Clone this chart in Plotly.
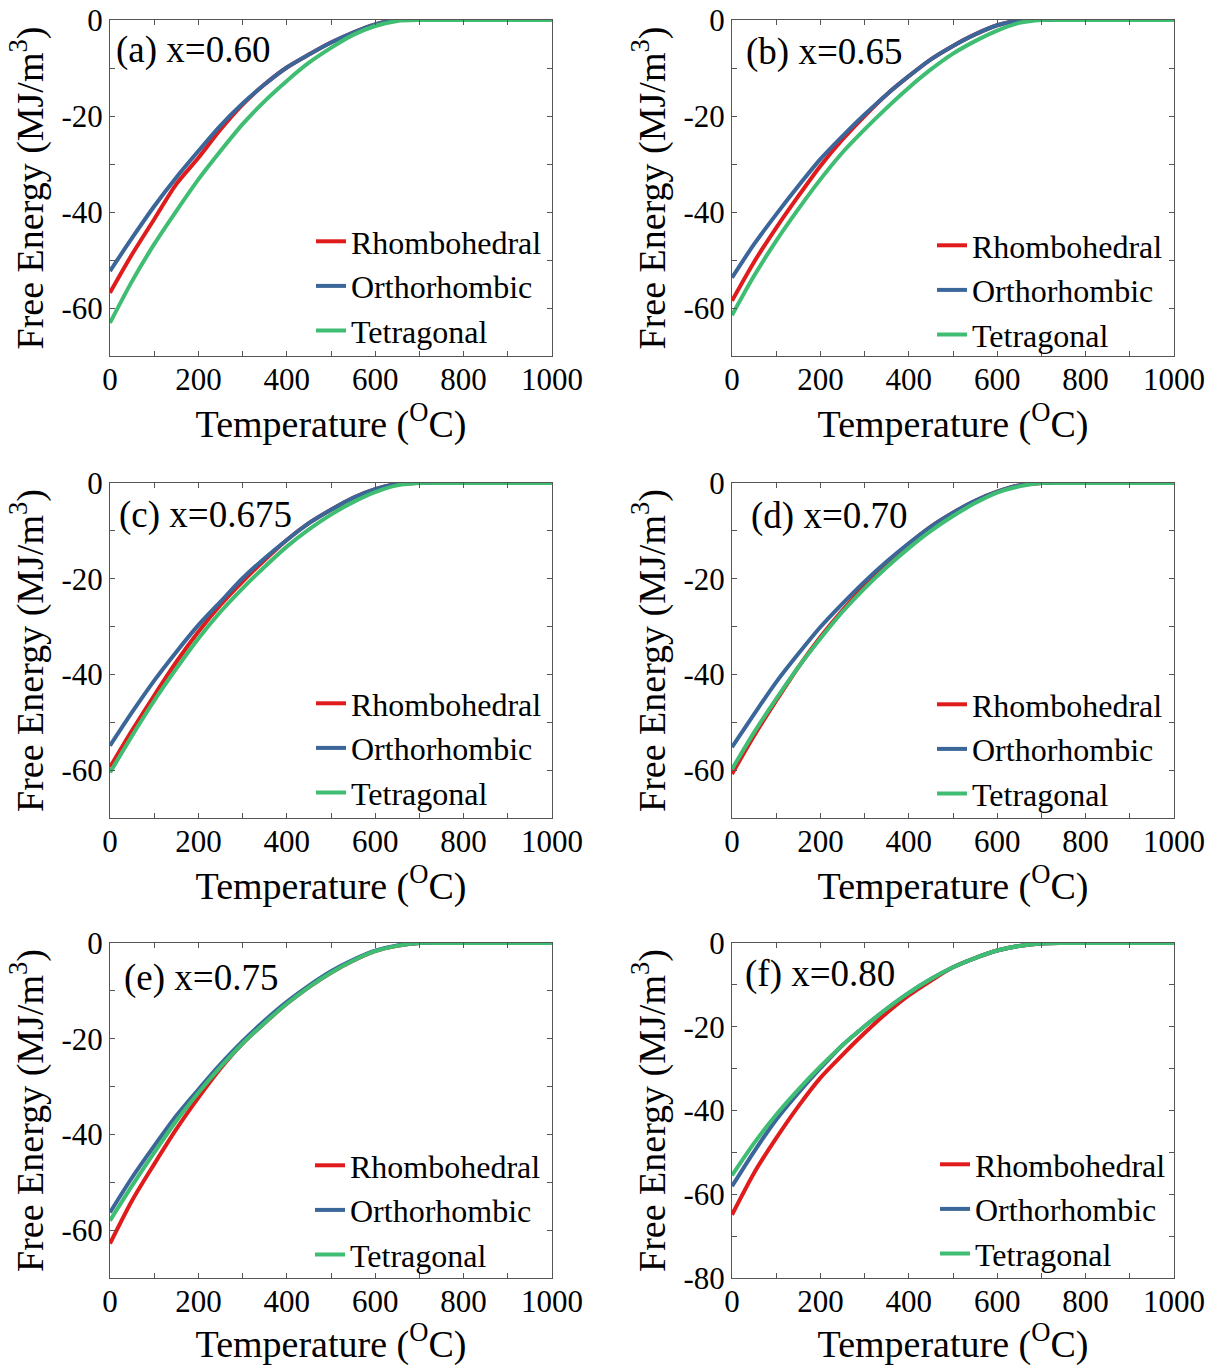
import plotly.graph_objects as go

# ---------------- data ----------------
temperature = [0, 50, 100, 150, 200, 250, 300, 350, 400, 450, 500,
               550, 600, 650, 700, 750, 800, 850, 900, 950, 1000]

rhombo_a = [-56.8, -48.8, -41.5, -34.2, -28.7, -22.8, -17.6, -13.4, -9.9, -7.2, -4.7, -2.6, -0.9, 0, 0, 0, 0, 0, 0, 0, 0]
ortho_a  = [-52.3, -45.4, -38.8, -32.8, -27.3, -22.0, -17.4, -13.4, -9.9, -7.2, -4.7, -2.6, -0.9, 0, 0, 0, 0, 0, 0, 0, 0]
tetra_a  = [-63.1, -54.4, -46.7, -39.8, -33.2, -27.3, -21.7, -16.9, -12.7, -8.9, -5.8, -3.1, -1.25, -0.2, 0, 0, 0, 0, 0, 0, 0]

rhombo_b = [-58.5, -50.4, -43.3, -36.7, -30.4, -24.9, -20.0, -15.5, -11.7, -8.2, -5.4, -3.0, -1.1, -0.1, 0, 0, 0, 0, 0, 0, 0]
ortho_b  = [-53.7, -46.7, -40.5, -34.6, -29.0, -24.2, -19.7, -15.5, -11.7, -8.2, -5.4, -3.0, -1.1, -0.1, 0, 0, 0, 0, 0, 0, 0]
tetra_b  = [-61.5, -53.3, -46.0, -39.4, -33.2, -27.6, -22.8, -18.3, -14.1, -10.3, -7.0, -4.4, -2.2, -0.6, 0, 0, 0, 0, 0, 0, 0]

rhombo_c = [-59.4, -51.7, -44.4, -37.4, -31.1, -25.5, -20.6, -16.1, -11.9, -8.4, -5.6, -3.1, -1.3, -0.2, 0, 0, 0, 0, 0, 0, 0]
ortho_c  = [-54.9, -47.9, -41.3, -35.3, -29.7, -24.8, -19.9, -15.7, -11.9, -8.4, -5.6, -3.1, -1.3, -0.2, 0, 0, 0, 0, 0, 0, 0]
tetra_c  = [-60.5, -52.8, -45.5, -38.8, -32.5, -26.9, -22.0, -17.5, -13.3, -9.7, -6.6, -4.0, -1.9, -0.5, 0, 0, 0, 0, 0, 0, 0]

rhombo_d = [-60.8, -52.8, -45.5, -38.5, -32.2, -26.6, -21.5, -17.0, -12.7, -9.1, -6.2, -3.7, -1.8, -0.5, 0, 0, 0, 0, 0, 0, 0]
ortho_d  = [-55.2, -48.3, -41.6, -35.7, -30.1, -25.2, -20.6, -16.4, -12.6, -9.1, -6.2, -3.7, -1.8, -0.5, 0, 0, 0, 0, 0, 0, 0]
tetra_d  = [-59.8, -52.1, -45.1, -38.5, -32.5, -26.9, -22.0, -17.6, -13.6, -10.0, -6.9, -4.2, -2.0, -0.7, 0, 0, 0, 0, 0, 0, 0]

rhombo_e = [-62.8, -53.8, -46.2, -38.9, -32.3, -26.2, -21.0, -16.7, -12.7, -9.2, -6.2, -3.7, -1.7, -0.6, 0, 0, 0, 0, 0, 0, 0]
ortho_e  = [-56.3, -49.0, -42.4, -36.1, -30.6, -25.3, -20.5, -16.2, -12.3, -8.9, -5.9, -3.5, -1.6, -0.5, 0, 0, 0, 0, 0, 0, 0]
tetra_e  = [-58.0, -50.7, -43.8, -37.2, -31.3, -25.9, -21.0, -16.7, -12.7, -9.2, -6.2, -3.7, -1.7, -0.6, 0, 0, 0, 0, 0, 0, 0]

rhombo_f = [-64.9, -54.9, -46.6, -39.0, -32.2, -26.7, -21.5, -16.7, -12.5, -9.0, -5.8, -3.6, -1.8, -0.7, -0.1, 0, 0, 0, 0, 0, 0]
ortho_f  = [-58.1, -49.8, -42.2, -35.8, -29.9, -24.4, -19.9, -15.7, -11.9, -8.6, -5.8, -3.6, -1.8, -0.7, -0.1, 0, 0, 0, 0, 0, 0]
tetra_f  = [-55.5, -47.8, -41.0, -35.0, -29.5, -24.4, -19.9, -15.7, -11.9, -8.6, -5.8, -3.6, -1.8, -0.7, -0.1, 0, 0, 0, 0, 0, 0]

series_names = ["Rhombohedral", "Orthorhombic", "Tetragonal"]
panel_labels = ["(a) x=0.60", "(b) x=0.65", "(c) x=0.675", "(d) x=0.70", "(e) x=0.75", "(f) x=0.80"]
panel_data = [
    (rhombo_a, ortho_a, tetra_a),
    (rhombo_b, ortho_b, tetra_b),
    (rhombo_c, ortho_c, tetra_c),
    (rhombo_d, ortho_d, tetra_d),
    (rhombo_e, ortho_e, tetra_e),
    (rhombo_f, ortho_f, tetra_f),
]
y_min = [-70, -70, -70, -70, -70, -80]
y_tick_vals = [[0, -20, -40, -60]] * 5 + [[0, -20, -40, -60, -80]]
y_tick_text = [["0", "-20", "-40", "-60"]] * 5 + [["0", "-20", "-40", "-60", "-80"]]
x_tick_vals = [0, 200, 400, 600, 800, 1000]
x_tick_text = ["0", "200", "400", "600", "800", "1000"]
x_title = "Temperature (<sup>O</sup>C)"
y_title = "Free Energy (MJ/m<sup>3</sup>)"

# ---------------- style / layout ----------------
W, H = 1212, 1366
colors = ["#E01B1B", "#3B6699", "#3FBD72"]
FONT = "Liberation Serif"
AX_COLOR = "#555555"

col_px = [(110, 552), (732, 1174)]
row_px = [(20, 356), (483, 818), (943, 1278)]
legend_px = [(311, 286), (932, 290), (311, 748), (932, 749), (310, 1210), (935, 1209)]   # middle-row centre
label_px = [(114, 50), (744, 52), (117, 515), (749, 516), (122, 978), (743, 974)]


def px_x(v):
    return v / W


def px_y(v):
    return 1 - v / H


fig = go.Figure()
for i in range(6):
    r, c = divmod(i, 2)
    n = "" if i == 0 else str(i + 1)
    for k in range(3):
        fig.add_trace(go.Scatter(
            x=temperature, y=panel_data[i][k], name=series_names[k],
            mode="lines", line=dict(color=colors[k], width=4, shape="spline", smoothing=0.8),
            xaxis="x" + n, yaxis="y" + n, legend="legend" + n,
        ))
    x0, x1 = col_px[c]
    y0, y1 = row_px[r]
    common = dict(showline=True, linecolor=AX_COLOR, linewidth=1, mirror="ticks",
                  ticks="inside", ticklen=5, tickcolor=AX_COLOR, showgrid=False, zeroline=False,
                  automargin=False, ticklabeloverflow="allow",
                  tickfont=dict(family=FONT, size=31, color="black"))
    fig.layout["xaxis" + n] = dict(
        domain=[px_x(x0), px_x(x1)], anchor="y" + n, range=[0, 1000],
        tickmode="array", tickvals=x_tick_vals, ticktext=x_tick_text, ticklabelstandoff=-4,
        minor=dict(dtick=100, ticks="inside", ticklen=5, tickcolor=AX_COLOR),
        title=dict(text=x_title, standoff=0, font=dict(family=FONT, size=38, color="black")),
        **common)
    fig.layout["yaxis" + n] = dict(
        domain=[px_y(y1), px_y(y0)], anchor="x" + n, range=[y_min[i], 0],
        tickmode="array", tickvals=y_tick_vals[i], ticktext=y_tick_text[i],
        minor=dict(dtick=10, ticks="inside", ticklen=5, tickcolor=AX_COLOR),
        title=dict(text=y_title, standoff=6, font=dict(family=FONT, size=38, color="black")),
        **common)
    lx, ly = legend_px[i]
    fig.layout["legend" + n] = dict(
        x=px_x(lx), y=px_y(ly), xanchor="left", yanchor="middle",
        bgcolor="rgba(0,0,0,0)", borderwidth=0,
        font=dict(family=FONT, size=32, color="black"), tracegroupgap=0,
    )
    tx, ty = label_px[i]
    fig.add_annotation(text=panel_labels[i], x=px_x(tx), y=px_y(ty), xref="paper", yref="paper",
                       xanchor="left", yanchor="middle", showarrow=False,
                       font=dict(family=FONT, size=37, color="black"))

fig.update_layout(width=W, height=H, autosize=False,
                  margin=dict(l=0, r=0, t=0, b=0, autoexpand=False),
                  paper_bgcolor="white", plot_bgcolor="white",
                  font=dict(family=FONT, color="black"))

# remove the page's default 8px body margin so the figure fills the window exactly
fig.write_html("out.html",
               config={"displayModeBar": False},
               post_script="document.body.style.margin='0px';document.body.style.overflow='hidden';")
